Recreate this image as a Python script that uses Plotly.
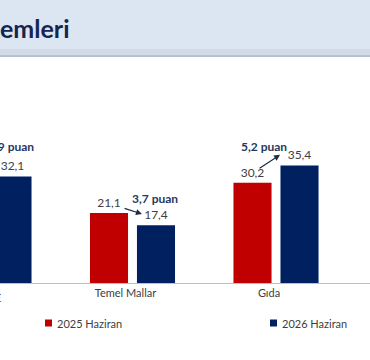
import plotly.graph_objects as go

# ---- data ----
categories = ["TÜFE", "Temel Mallar", "Gıda"]
series_2025 = [35.0, 21.1, 30.2]
series_2026 = [32.1, 17.4, 35.4]
series_names = ["2025 Haziran", "2026 Haziran"]
title_text = "emleri"

# ---- style / layout ----
RED = "#C00000"
NAVY = "#002060"
TXT = "#404040"
DARK = "#1F3864"
FONT = "Lato"
colors = [RED, NAVY]

W, H = 370, 360
M_T, M_B = 60, 77
plot_h = H - M_T - M_B
px_per_unit = 3.32
y_max = plot_h / px_per_unit
x_range = [0.0767, 2.655]


def py2paper(py):
    return (H - M_B - py) / plot_h


fig = go.Figure()
for name, vals, col in zip(series_names, [series_2025, series_2026], colors):
    fig.add_trace(go.Bar(
        x=list(range(len(categories))), y=vals, name=name,
        marker=dict(color=col, line=dict(width=0)),
        texttemplate="%{y:.1f}", textposition="outside",
        textfont=dict(family=FONT, size=12, color=TXT),
        cliponaxis=True, showlegend=False,
    ))

# difference labels ("x,x puan") and arrows
label_dx = [0.152, 0.157, -0.084]
label_dy = [6.0, 4.5, 5.6]
for i in range(len(categories)):
    diff = abs(series_2026[i] - series_2025[i])
    txt = f"<b>{diff:.1f} puan</b>".replace(".", ",")
    top = max(series_2025[i], series_2026[i])
    fig.add_annotation(x=i + label_dx[i], y=top + label_dy[i], xref="x", yref="y",
                       text=txt, showarrow=False,
                       font=dict(family=FONT, size=12, color=DARK))

arrows = [  # (category, tail dx, tail y, head dx, head y)
    (1, -0.066, 22.6, 0.066, 20.8),
    (2, -0.125, 34.3, 0.028, 38.6),
]
for c, tdx, ty, hdx, hy in arrows:
    fig.add_annotation(x=c + hdx, y=hy, ax=c + tdx, ay=ty, xref="x", yref="y",
                       axref="x", ayref="y", text="", showarrow=True,
                       arrowhead=2, arrowsize=1, arrowwidth=1.2, arrowcolor="#1F2A44")

# cut-off first category label
fig.add_annotation(x=x_range[0] + 0.023, y=py2paper(297), xref="x", yref="paper",
                   text=categories[0], showarrow=False, xanchor="right", yanchor="middle",
                   font=dict(family=FONT, size=11, color=TXT))

# header band
fig.add_shape(type="rect", xref="paper", yref="paper", x0=0, x1=1,
              y0=py2paper(49), y1=py2paper(0), fillcolor="#DCE6F2", line=dict(width=0), layer="below")
fig.add_shape(type="rect", xref="paper", yref="paper", x0=0, x1=1,
              y0=py2paper(55), y1=py2paper(49), fillcolor="#D2DAE8", line=dict(width=0), layer="below")
fig.add_shape(type="rect", xref="paper", yref="paper", x0=0, x1=1,
              y0=py2paper(57), y1=py2paper(55), fillcolor="#B9C0CD", line=dict(width=0), layer="below")
fig.add_annotation(x=0, y=py2paper(28), xref="paper", yref="paper", text=f"<b>{title_text}</b>",
                   showarrow=False, xanchor="left", yanchor="middle", xshift=-2,
                   font=dict(family=FONT, size=25, color="#17244D"))

# legend (square swatch + label per series)
legend_x_px = [45, 270]
legend_y = py2paper(323)
for name, col, lx in zip(series_names, colors, legend_x_px):
    fig.add_shape(type="rect", xref="paper", yref="paper",
                  x0=lx / W, x1=(lx + 7) / W,
                  y0=legend_y - 3.5 / plot_h, y1=legend_y + 3.5 / plot_h,
                  fillcolor=col, line=dict(width=0))
    fig.add_annotation(x=(lx + 10) / W, y=legend_y, xref="paper", yref="paper",
                       text=name, showarrow=False, xanchor="left", yanchor="middle",
                       font=dict(family=FONT, size=11, color=TXT))

fig.update_layout(
    width=W, height=H,
    margin=dict(l=0, r=0, t=M_T, b=M_B, pad=0),
    paper_bgcolor="white", plot_bgcolor="white",
    barmode="group", bargap=0.345, bargroupgap=0.19,
    separators=",.",
    showlegend=False,
    xaxis=dict(tickmode="array", tickvals=list(range(len(categories))), ticktext=categories,
               range=x_range, showline=True, linecolor="#BFBFBF", linewidth=1,
               ticks="", showgrid=False, zeroline=False, ticklabelshift=-7,
               tickfont=dict(family=FONT, size=11, color=TXT), fixedrange=True),
    yaxis=dict(range=[0, y_max], showgrid=False, zeroline=False, showticklabels=False,
               showline=False, fixedrange=True),
)

fig.write_html("out.html", config={"displayModeBar": False})
